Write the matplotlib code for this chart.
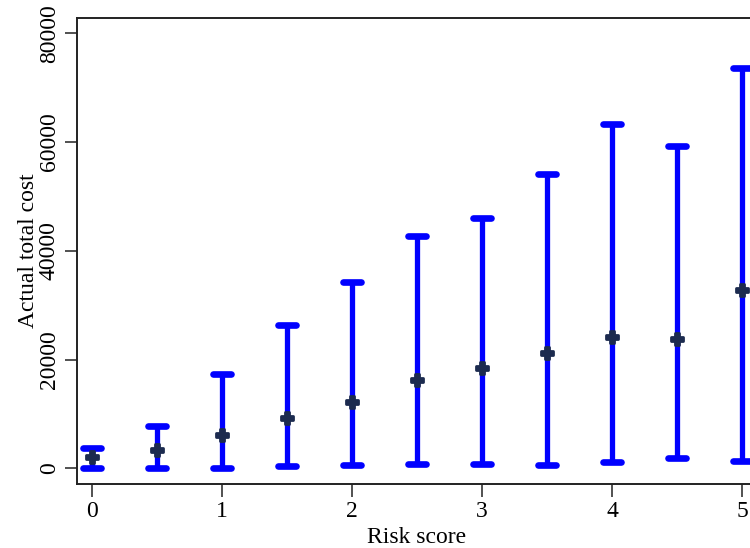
import matplotlib
matplotlib.use("Agg")
from matplotlib import pyplot as plt
from matplotlib.markers import MarkerStyle

# risk score bins and cost summaries
risk_score = [0, 0.5, 1, 1.5, 2, 2.5, 3, 3.5, 4, 4.5, 5]
cost_mean = [2000, 3300, 6100, 9200, 12100, 16200, 18400, 21150, 24100, 23700, 32800]
cost_low = [0, 0, 100, 400, 550, 700, 750, 600, 1230, 1900, 1350]
cost_high = [3700, 7700, 17300, 26300, 34200, 42700, 46000, 54100, 63300, 59200, 73600]

plt.rcParams['font.family'] = ['Liberation Serif', 'DejaVu Serif']

fig = plt.figure(figsize=(7.5, 5.48), dpi=100)
ax = fig.add_axes([0.1027, 0.1168, 0.9067, 0.8504])

#Bars from low to high, caps drawn separately so they get round ends.
ax.vlines(risk_score, cost_low, cost_high, color='#0000ff', linewidth=3.8, zorder=2)
cap = MarkerStyle('_', capstyle='round')
ax.plot(risk_score, cost_low, linestyle='none', marker=cap, markersize=12.5,
        markeredgewidth=4.8, color='#0000ff', zorder=2)
ax.plot(risk_score, cost_high, linestyle='none', marker=cap, markersize=12.5,
        markeredgewidth=4.8, color='#0000ff', zorder=2)
#Mean markers.
mean_marker = MarkerStyle('P', joinstyle='round')
ax.plot(risk_score, cost_mean, linestyle='none', marker=mean_marker, color='#1c2b4f',
        markersize=8.5, markeredgewidth=2, markeredgecolor='#1c2b4f', zorder=3)

ax.set_xlim(-0.113, 5.113)
ax.set_ylim(-2900, 82840)
ax.set_xticks([0, 1, 2, 3, 4, 5])
ax.set_yticks([0, 20000, 40000, 60000, 80000])
ax.set_yticklabels(['0', '20000', '40000', '60000', '80000'], rotation=90, va='center')
ax.tick_params(axis='both', labelsize=17, length=9, width=1.2, color='#333333')
ax.tick_params(axis='y', pad=3.5)
ax.tick_params(axis='x', pad=3)
ax.set_xlabel("Risk score", fontsize=17, labelpad=3.5)
ax.set_ylabel("Actual total cost", fontsize=17, labelpad=0)
for s in ax.spines.values():
    s.set_linewidth(1.4)
    s.set_color('#222222')

fig.savefig("out.png", dpi=100)
